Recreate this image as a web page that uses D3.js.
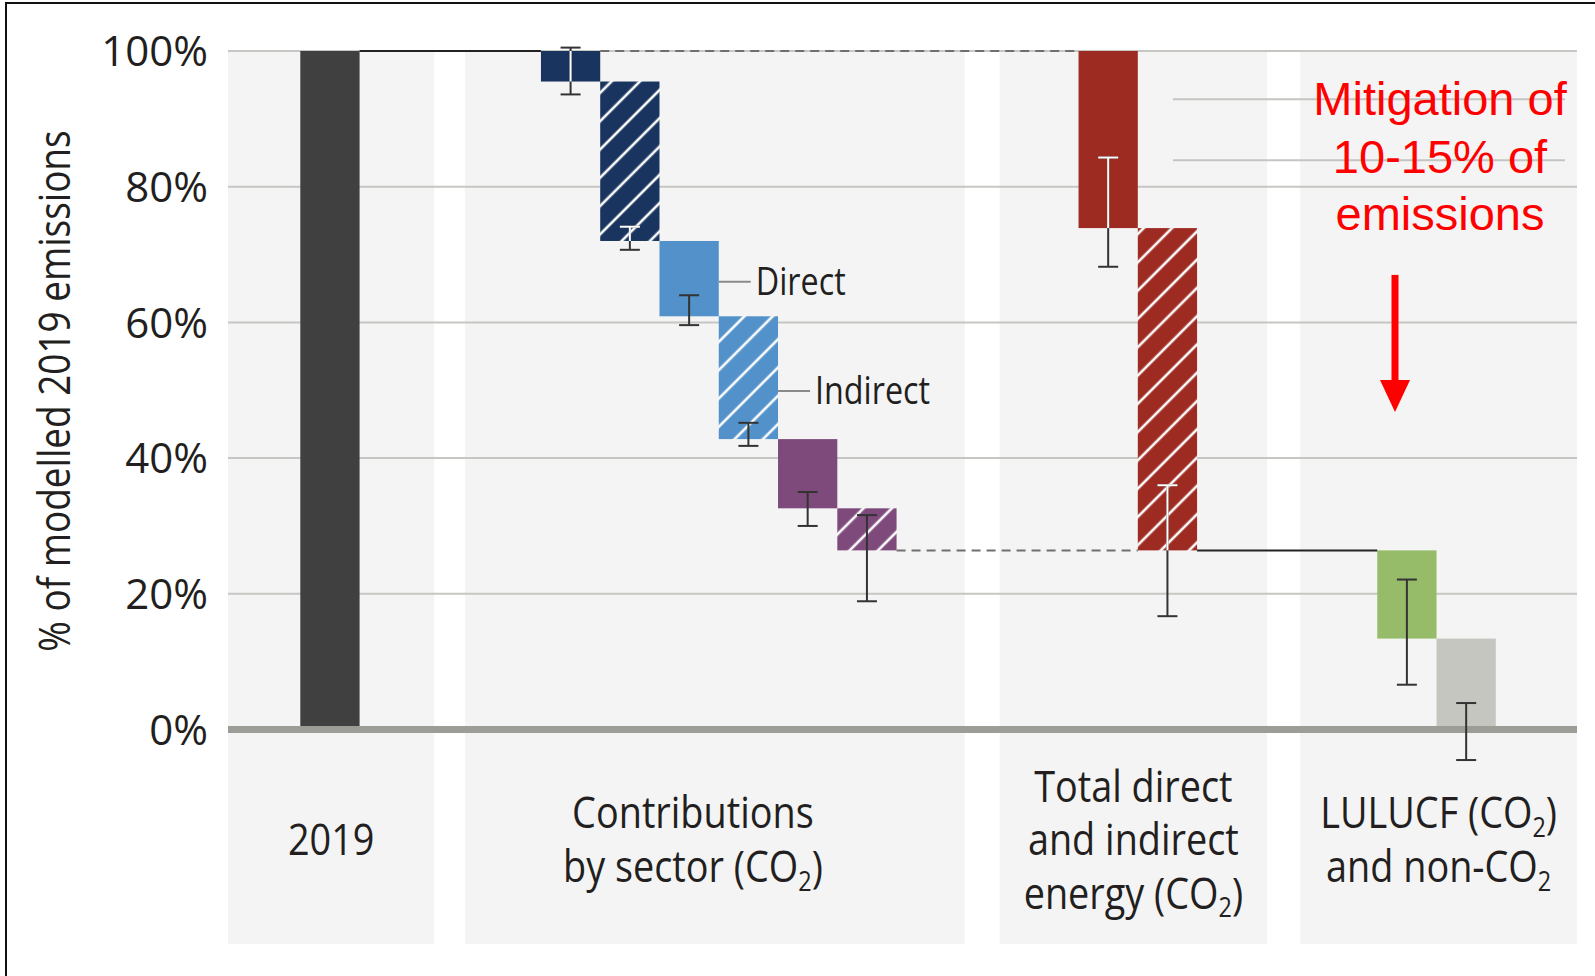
<!DOCTYPE html>
<html>
<head>
<meta charset="utf-8">
<script src="https://cdn.jsdelivr.net/npm/d3@7"></script>
<style>
  body { margin: 0; background: #fff; }
  svg { display: block; }
</style>
</head>
<body>
<div id="chart"></div>
<script>
// ---- data ----
const groupLabels = [
    ["2019"],
    ["Contributions", "by sector (CO_2)"],
    ["Total direct", "and indirect", "energy (CO_2)"],
    ["LULUCF (CO_2)", "and non-CO_2"]
]
const stepNames = ["2019", "sector1 direct", "sector1 indirect", "sector2 direct", "sector2 indirect",
    "sector3 direct", "sector3 indirect", "energy direct", "energy indirect", "LULUCF", "non-CO2"]
const stepGroup = [0, 1, 1, 1, 1, 1, 1, 2, 2, 3, 3]
const stepTop = [100, 100, 95.5, 72.0, 60.9, 42.8, 32.6, 100, 73.9, 26.4, 13.4]
const stepBottom = [0, 95.5, 72.0, 60.9, 42.8, 32.6, 26.4, 73.9, 26.4, 13.4, 0]
const errHigh = [null, 100.5, 74.1, 64.0, 45.2, 35.0, 31.6, 84.3, 36.0, 22.1, 3.9]
const errLow = [null, 93.6, 70.7, 59.6, 41.8, 30.0, 18.9, 68.2, 16.7, 6.6, -4.5]
const yTicks = [0, 20, 40, 60, 80, 100]
const yTitle = "% of modelled 2019 emissions"
const barLabels = [{ text: "Direct", step: 3, v: 66.0 }, { text: "Indirect", step: 4, v: 49.9 }]
const mitigationText = ["Mitigation of", "10-15% of", "emissions"]

// ---- styles / layout ----
const stepColor = ["#404040", "#19345e", "#19345e", "#5291c9", "#5291c9", "#7e4a7b", "#7e4a7b",
    "#9e2b22", "#9e2b22", "#97bc69", "#c6c6c1"]
const hatched = [false, false, true, false, true, false, true, false, true, false, false]
const whiteErr = ["#19345e", "#9e2b22"]
const textColor = "#231f20"
const padL = [1.22, 1.28, 1.33, 1.30]   // panel padding left, in bar widths
const padR = [1.26, 1.15, 1.18, 1.37]
const gaps = [0.52, 0.59, 0.56]

let width = 1595,
    height = 976

let svg = d3.select('#chart')
    .append('svg')
    .attr("width", width)
    .attr("height", height)

let y = d3.scaleLinear().domain([0, 100]).range([729.5, 51])

// x layout in "bar units"
let pos = 0
let panelSpan = [], barPos = []
groupLabels.forEach(function (g, gi) {
    let start = pos
    pos += padL[gi]
    stepGroup.forEach(function (sg, si) {
        if (sg === gi) { barPos[si] = pos; pos += 1 }
    })
    pos += padR[gi]
    panelSpan.push([start, pos])
    if (gi < gaps.length) pos += gaps[gi]
})
let x = d3.scaleLinear().domain([0, pos]).range([228, 1577])
let bw = x(1) - x(0)

let defs = svg.append("defs")

// hatch patterns
d3.groups(stepColor.filter((c, i) => hatched[i]), c => c).forEach(function ([c]) {
    let p = defs.append("pattern")
        .attr("id", "hatch" + c.slice(1))
        .attr("patternUnits", "userSpaceOnUse")
        .attr("width", 20).attr("height", 20)
        .attr("patternTransform", "rotate(45)")
    p.append("rect").attr("width", 20).attr("height", 20).attr("fill", c)
    p.append("line").attr("x1", 10).attr("x2", 10).attr("y1", 0).attr("y2", 20)
        .attr("stroke", "#fff").attr("stroke-width", 2.6)
})

// panels
svg.selectAll(".panel")
    .data(panelSpan)
    .enter().append("rect")
    .attr("class", "panel")
    .attr("x", d => x(d[0]))
    .attr("width", d => x(d[1]) - x(d[0]))
    .attr("y", y(100))
    .attr("height", 944 - y(100))
    .attr("fill", "#f4f4f4")

// gridlines
svg.selectAll(".grid")
    .data(yTicks.filter(d => d > 0))
    .enter().append("line")
    .attr("x1", 228).attr("x2", 1577)
    .attr("y1", d => y(d)).attr("y2", d => y(d))
    .attr("stroke", "#c6c6c3").attr("stroke-width", 2)

// decorative lines behind the annotation
svg.selectAll(".annoLine")
    .data([92.9, 83.9])
    .enter().append("line")
    .attr("x1", 1173).attr("x2", 1565)
    .attr("y1", d => y(d)).attr("y2", d => y(d))
    .attr("stroke", "#c4c4c1").attr("stroke-width", 2)

// bars
let idx = d3.range(stepNames.length)
svg.selectAll(".bar")
    .data(idx)
    .enter().append("rect")
    .attr("class", "bar")
    .attr("x", i => x(barPos[i]))
    .attr("width", bw)
    .attr("y", i => y(stepTop[i]))
    .attr("height", i => y(stepBottom[i]) - y(stepTop[i]))
    .attr("fill", i => hatched[i] ? "url(#hatch" + stepColor[i].slice(1) + ")" : stepColor[i])

// zero axis
svg.append("line")
    .attr("x1", 228).attr("x2", 1577)
    .attr("y1", y(0)).attr("y2", y(0))
    .attr("stroke", "#9d9d97").attr("stroke-width", 7)

// connectors
const connectors = [
    { from: 0, to: 1, v: stepTop[0], dash: false },
    { from: 1, to: 7, v: stepTop[1], dash: true },
    { from: 6, to: 8, v: stepBottom[6], dash: true },
    { from: 8, to: 9, v: stepBottom[8], dash: false }
]
svg.selectAll(".conn")
    .data(connectors)
    .enter().append("line")
    .attr("x1", d => x(barPos[d.from] + 1))
    .attr("x2", d => x(barPos[d.to]))
    .attr("y1", d => y(d.v)).attr("y2", d => y(d.v))
    .attr("stroke", d => d.dash ? "#6f6f6f" : "#222")
    .attr("stroke-width", 2)
    .attr("stroke-dasharray", d => d.dash ? "9,6" : null)

// error bars: dark everywhere, white where they cross a dark bar
function errorBar(g, i, hi, lo, caps) {
    let cx = x(barPos[i] + 0.5)
    g.append("line").attr("x1", cx).attr("x2", cx)
        .attr("y1", y(hi)).attr("y2", y(lo))
    caps.forEach(function (v) {
        g.append("line").attr("x1", cx - 10).attr("x2", cx + 10)
            .attr("y1", y(v)).attr("y2", y(v))
    })
}
idx.filter(i => errHigh[i] != null).forEach(function (i) {
    let g = svg.append("g").attr("stroke", "#333").attr("stroke-width", 2)
    errorBar(g, i, errHigh[i], errLow[i], [errHigh[i], errLow[i]])
    if (whiteErr.includes(stepColor[i])) {
        let hi = Math.min(errHigh[i], stepTop[i]), lo = Math.max(errLow[i], stepBottom[i])
        if (hi > lo) {
            let caps = [errHigh[i], errLow[i]].filter(v => v <= stepTop[i] && v >= stepBottom[i])
            let gw = svg.append("g").attr("stroke", "#fff").attr("stroke-width", 2)
            errorBar(gw, i, hi, lo, caps)
        }
    }
})

// y axis
let yAxis = svg.append("g")
    .attr("transform", "translate(228,0)")
    .call(d3.axisLeft(y).tickValues(yTicks).tickFormat(d => d + "%").tickSize(0).tickPadding(20))
yAxis.select(".domain").remove()
yAxis.selectAll("text")
    .attr("font-family", "'Open Sans', sans-serif")
    .attr("font-size", 42)
    .attr("fill", textColor)
    .attr("dy", "0.35em")

// text helpers
function richText(t, str, size) {
    let shift = 0
    str.split(/(_\d)/).forEach(function (part) {
        if (!part) return
        if (part[0] === "_") {
            t.append("tspan").text(part[1]).attr("font-size", size * 0.62).attr("dy", size * 0.2)
            shift = -size * 0.2
        } else {
            let ts = t.append("tspan").text(part)
            if (shift) { ts.attr("dy", shift); shift = 0 }
        }
    })
}
function condText(sel, tx, ty, str, size, sx, anchor) {
    let t = sel.append("text")
        .attr("transform", "translate(" + tx + "," + ty + ") scale(" + sx + ",1)")
        .attr("font-family", "'Open Sans', sans-serif")
        .attr("font-size", size)
        .attr("fill", textColor)
        .attr("text-anchor", anchor)
    richText(t, str, size)
    return t
}

// category labels
const labelShift = [0, -22, 0, 0]
groupLabels.forEach(function (lines, gi) {
    let cx = (x(panelSpan[gi][0]) + x(panelSpan[gi][1])) / 2 + labelShift[gi]
    lines.forEach(function (line, li) {
        condText(svg, cx, 855 + (li - (lines.length - 1) / 2) * 53.5, line, 44, 0.86, "middle")
    })
})

// y title
condText(svg, 0, 0, yTitle, 44, 0.84, "middle")
    .attr("transform", "translate(70,391) rotate(-90) scale(0.84,1)")

// Direct / Indirect labels
barLabels.forEach(function (d) {
    let x0 = x(barPos[d.step] + 1)
    svg.append("line")
        .attr("x1", x0).attr("x2", x0 + 32)
        .attr("y1", y(d.v)).attr("y2", y(d.v))
        .attr("stroke", "#8a8a8a").attr("stroke-width", 2)
    condText(svg, x0 + 37, y(d.v) + 13, d.text, 38, 0.85, "start")
})

// mitigation annotation
svg.selectAll(".mit")
    .data(mitigationText)
    .enter().append("text")
    .attr("x", 1440)
    .attr("y", (d, i) => 115 + i * 57.5)
    .attr("text-anchor", "middle")
    .attr("font-family", "'Liberation Sans', Arial, sans-serif")
    .attr("font-size", 47)
    .attr("fill", "#ff0000")
    .text(d => d)

// red arrow
svg.append("line")
    .attr("x1", 1395).attr("x2", 1395)
    .attr("y1", y(67.0)).attr("y2", y(51.5))
    .attr("stroke", "#ff0000").attr("stroke-width", 7)
svg.append("path")
    .attr("d", d3.line()([[1380, y(51.5)], [1410, y(51.5)], [1395, y(46.8)]]))
    .attr("fill", "#ff0000")

// frame
svg.append("path")
    .attr("d", "M6,976V3H1595")
    .attr("fill", "none")
    .attr("stroke", "#111")
    .attr("stroke-width", 2)
</script>
</body>
</html>
